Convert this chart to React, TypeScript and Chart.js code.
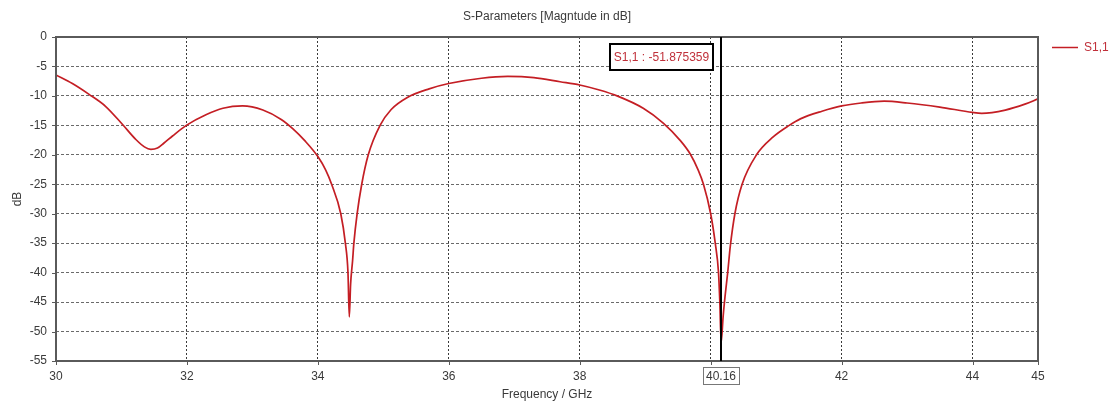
import React, { useEffect, useRef } from 'react';
import { Chart, registerables } from 'chart.js';

Chart.register(...registerables);

const chartTitle = 'S-Parameters [Magntude in dB]';
const seriesName = 'S1,1';
const xTitle = 'Frequency / GHz';
const yTitle = 'dB';
const xTickValues = [30, 32, 34, 36, 38, 40, 42, 44, 45];
const yMin = -55;
const yMax = 0;
const yStep = 5;
const markerFreq = 40.16;
const markerLabel = 'S1,1 : -51.875359';
const markerAxisLabel = '40.16';

const freqGHz = [
  30.0, 30.25, 30.5, 30.76, 31.02, 31.22, 31.35, 31.45, 31.55, 31.65, 31.78, 31.99,
  32.29, 32.55, 32.85, 33.16, 33.44, 33.62, 33.8, 34.0, 34.12, 34.21, 34.35, 34.42,
  34.46, 34.48, 34.5, 34.53, 34.55, 34.6, 34.67, 34.77, 34.95, 35.12, 35.36, 35.7,
  36.0, 36.5, 36.9, 37.3, 37.7, 38.0, 38.3, 38.57, 38.97, 39.28, 39.53, 39.69,
  39.81, 39.89, 40.0, 40.07, 40.12, 40.14, 40.16, 40.19, 40.22, 40.26, 40.3, 40.37,
  40.48, 40.7, 40.95, 41.2, 41.37, 41.7, 42.0, 42.3, 42.65, 43.0, 43.5, 44.0,
  44.14, 44.5, 44.8, 45.0,
];

const s11dB = [
  -6.45, -7.9, -9.7, -11.8, -14.9, -17.4, -18.65, -19.07, -18.85, -18.0, -16.8, -15.0,
  -13.2, -12.1, -11.7, -12.4, -14.0, -15.6, -17.6, -20.3, -22.6, -25.0, -30.0, -35.0,
  -40.0, -47.5, -42.0, -38.0, -35.0, -30.0, -25.0, -20.0, -15.0, -12.3, -10.3, -8.8,
  -7.9, -7.0, -6.7, -6.9, -7.6, -8.15, -9.0, -10.0, -12.1, -14.65, -17.5, -19.9,
  -22.6, -25.0, -30.0, -35.0, -40.0, -45.0, -51.875359, -47.5, -44.0, -40.0, -35.5, -30.0,
  -25.0, -20.0, -17.0, -15.0, -13.9, -12.6, -11.7, -11.2, -10.9, -11.2, -11.9, -12.8,
  -12.95, -12.4, -11.4, -10.5,
];

const FONT = 'Liberation Sans, Arial, sans-serif';
const FS = 12;
const TEXT = '#3a3a3a';
const CURVE = '#c41e24';

export default function App() {
  const ref = useRef<HTMLCanvasElement>(null);

  useEffect(() => {
    const canvas = ref.current;
    if (!canvas) return;

    const overlay = {
      id: 'overlay',
      afterDraw(chart: any) {
        const ctx = chart.ctx as CanvasRenderingContext2D;
        const { left, right, top, bottom } = chart.chartArea;
        const xs = chart.scales.x;
        const ys = chart.scales.y;
        ctx.save();

        // frame
        ctx.strokeStyle = '#5a5a5a';
        ctx.lineWidth = 2;
        ctx.setLineDash([]);
        ctx.strokeRect(left, top, right - left, bottom - top);

        // tick marks
        ctx.lineWidth = 1;
        ctx.strokeStyle = '#5a5a5a';
        ctx.beginPath();
        xTickValues.forEach((v) => {
          const px = Math.round(xs.getPixelForValue(v)) + 0.5;
          ctx.moveTo(px, bottom);
          ctx.lineTo(px, bottom + 4);
        });
        for (let v = yMin; v <= yMax; v += yStep) {
          const py = Math.round(ys.getPixelForValue(v)) + 0.5;
          ctx.moveTo(left - 4, py);
          ctx.lineTo(left, py);
        }
        ctx.stroke();

        // marker line
        const mx = Math.round(xs.getPixelForValue(markerFreq));
        ctx.strokeStyle = '#000';
        ctx.lineWidth = 2;
        ctx.beginPath();
        ctx.moveTo(mx, top);
        ctx.lineTo(mx, bottom);
        ctx.stroke();

        // marker value box
        ctx.font = `${FS}px ${FONT}`;
        const tw = ctx.measureText(markerLabel).width;
        const bw = Math.round(tw + 8);
        const bx = mx - 8 - bw;
        const by = 44;
        const bh = 26;
        ctx.fillStyle = '#fff';
        ctx.fillRect(bx, by, bw, bh);
        ctx.strokeStyle = '#000';
        ctx.lineWidth = 2;
        ctx.strokeRect(bx, by, bw, bh);
        ctx.fillStyle = '#c0303a';
        ctx.textAlign = 'center';
        ctx.textBaseline = 'middle';
        ctx.fillText(markerLabel, bx + bw / 2, by + bh / 2 + 1);

        // marker axis label
        const aw = Math.round(ctx.measureText(markerAxisLabel).width + 6);
        const ax = mx - aw / 2;
        const ay = 367;
        ctx.fillStyle = '#fff';
        ctx.fillRect(ax, ay, aw, 17);
        ctx.strokeStyle = '#777';
        ctx.lineWidth = 1;
        ctx.strokeRect(Math.round(ax) + 0.5, ay + 0.5, aw, 17);
        ctx.fillStyle = TEXT;
        ctx.fillText(markerAxisLabel, mx, ay + 9.5);

        // title
        ctx.fillStyle = TEXT;
        ctx.fillText(chartTitle, (left + right) / 2, 17);

        // legend
        ctx.strokeStyle = CURVE;
        ctx.lineWidth = 1.5;
        ctx.beginPath();
        ctx.moveTo(1052, 47.5);
        ctx.lineTo(1078, 47.5);
        ctx.stroke();
        ctx.fillStyle = '#c0303a';
        ctx.textAlign = 'left';
        ctx.fillText(seriesName, 1084, 48);

        ctx.restore();
      },
    };

    const chart = new Chart(canvas, {
      type: 'line',
      data: {
        datasets: [
          {
            label: seriesName,
            data: freqGHz.map((f, i) => ({ x: f, y: s11dB[i] })),
            borderColor: CURVE,
            backgroundColor: CURVE,
            borderWidth: 1.7,
            pointRadius: 0,
            cubicInterpolationMode: 'monotone',
            fill: false,
          },
        ],
      },
      options: {
        responsive: false,
        animation: false,
        devicePixelRatio: 1,
        layout: { padding: { left: 0, top: 37, right: 79, bottom: 0 } },
        plugins: {
          legend: { display: false },
          title: { display: false },
          tooltip: { enabled: false },
        },
        scales: {
          x: {
            type: 'linear',
            min: 30,
            max: 45,
            afterBuildTicks: (s: any) => {
              s.ticks = xTickValues.map((v) => ({ value: v }));
            },
            afterFit: (s: any) => {
              s.height = 42;
            },
            ticks: {
              autoSkip: false,
              maxRotation: 0,
              padding: 8,
              color: TEXT,
              font: { family: FONT, size: FS },
              callback: (v: any) => (Math.abs(Number(v) - 40) < 1e-9 ? '' : String(v)),
            },
            grid: { color: '#3a3a3a', lineWidth: 1, drawTicks: false },
            border: { display: false, dash: [2, 2] },
            title: {
              display: true,
              text: xTitle,
              color: TEXT,
              font: { family: FONT, size: FS },
              padding: { top: 0, bottom: 1 },
            },
          },
          y: {
            type: 'linear',
            min: yMin,
            max: yMax,
            afterFit: (s: any) => {
              s.width = 56;
            },
            ticks: {
              stepSize: yStep,
              padding: 9,
              color: TEXT,
              font: { family: FONT, size: FS },
            },
            grid: { color: '#6a6a6a', lineWidth: 1, drawTicks: false },
            border: { display: false, dash: [3, 2] },
            title: {
              display: true,
              text: yTitle,
              color: TEXT,
              font: { family: FONT, size: FS },
              padding: { top: 10, bottom: 0 },
            },
          },
        },
      },
      plugins: [overlay],
    } as any);

    return () => chart.destroy();
  }, []);

  return (
    <div style={{ position: 'fixed', left: 0, top: 0, width: 1117, height: 403, background: '#fff' }}>
      <canvas ref={ref} width={1117} height={403} style={{ display: 'block' }} />
    </div>
  );
}
